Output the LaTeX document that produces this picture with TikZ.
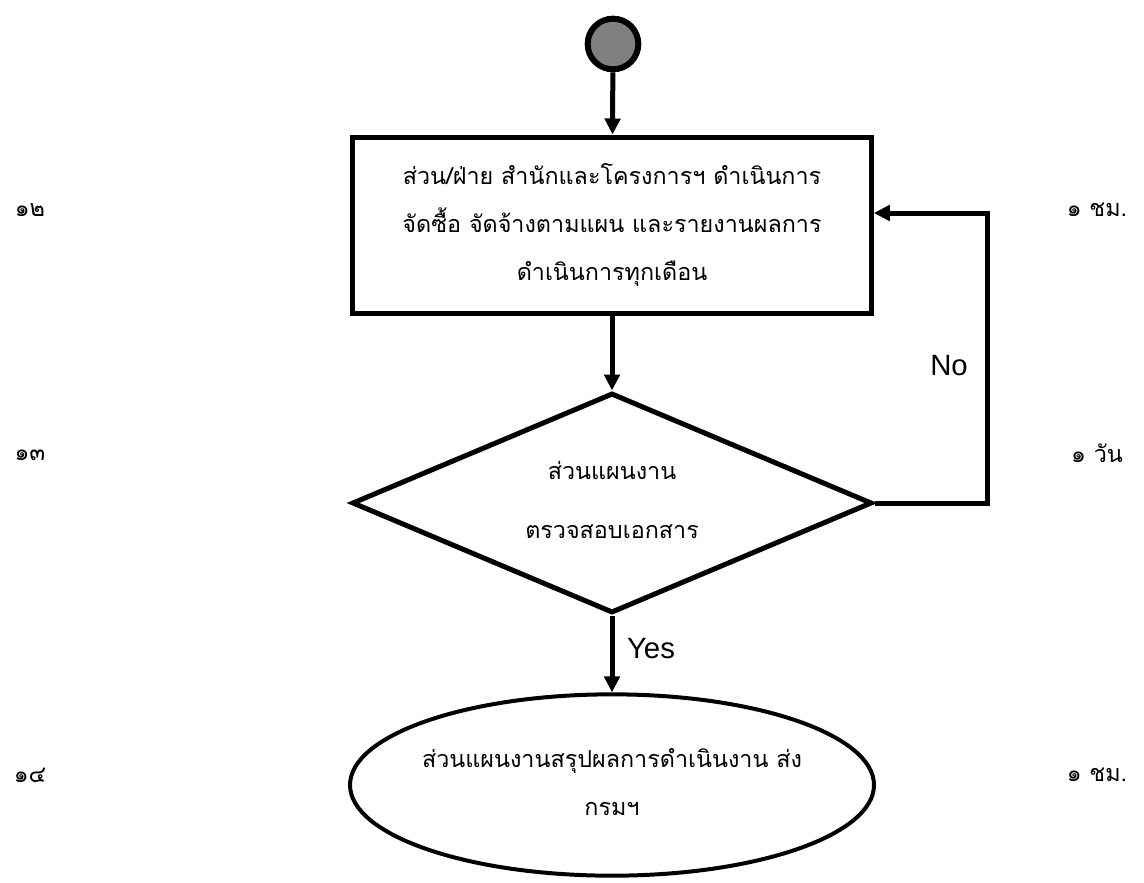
\documentclass[tikz,border=0pt]{standalone}
\usepackage{fontspec}
\setmainfont[Script=Thai]{Loma}
\newfontfamily\latinfont{Liberation Sans}
\usetikzlibrary{arrows.meta, shapes.geometric}

\tikzset{
    flowline/.style={line width=3.75pt},
    thaitext/.style={align=center, font=\fontsize{17.5pt}{36pt}\selectfont},
    taskbox/.style={draw, flowline, rectangle, thaitext, minimum width=389pt, minimum height=132pt},
    checkbox/.style={draw, flowline, diamond, minimum width=390pt, minimum height=165pt, inner sep=0pt},
    sidetext/.style={font=\fontsize{17.5pt}{20pt}\selectfont},
    answer/.style={font=\latinfont\fontsize{22pt}{24pt}\selectfont},
}

\begin{document}
\begin{tikzpicture}[x=0.75pt, y=-0.75pt, >={Triangle[length=12pt, width=11.5pt]}]
            \useasboundingbox (0, 0) rectangle (1144, 882);
            \node[draw, line width=4.5pt, circle, fill=gray, minimum size=38pt, inner sep=0pt] (start) at (613, 44) {};
            \node[taskbox] (task) at (612, 225) {ส่วน/ฝ่าย สำนักและโครงการฯ ดำเนินการ\\จัดซื้อ จัดจ้างตามแผน และรายงานผลการ\\ดำเนินการทุกเดือน};
            \node[checkbox] (check) at (612, 503) {};
            \node[thaitext, font=\fontsize{17.5pt}{44pt}\selectfont] (checktext) at (612, 500) {ส่วนแผนงาน\\ตรวจสอบเอกสาร};
            \node[draw, line width=3pt, ellipse, minimum width=393pt, minimum height=136pt] (summary) at (612, 785) {};
            \node[thaitext] (summarytext) at (612, 782) {ส่วนแผนงานสรุปผลการดำเนินงาน ส่ง\\กรมฯ};
            \coordinate (loop) at (987, 213);
            \draw[flowline, ->] (start) -- (task);
            \draw[flowline, ->] (task) -- (check);
            \draw[flowline, ->] (check.east) -| (loop) -- (task.east |- loop);
            \draw[flowline, ->] (check.south) -- (summary.north);
            \node[answer] (no) at (949, 366) {No};
            \node[answer] (yes) at (651, 649) {Yes};
            % step numbers
            \node[sidetext] (n12) at (30, 210) {๑๒};
            \node[sidetext] (n13) at (30, 455) {๑๓};
            \node[sidetext] (n14) at (30, 775) {๑๔};
            % time
            \node[sidetext] (t12) at (1097, 210) {๑ ชม.};
            \node[sidetext] (t13) at (1097, 453) {๑ วัน};
            \node[sidetext] (t14) at (1097, 775) {๑ ชม.};
        \end{tikzpicture}
\end{document}
